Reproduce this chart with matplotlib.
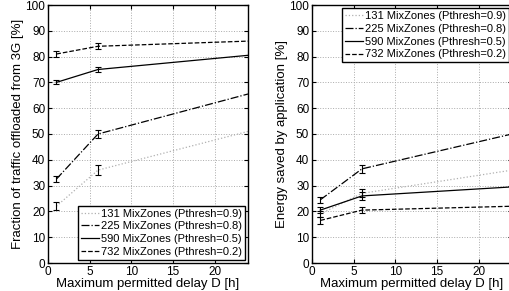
import numpy as np
import matplotlib.pyplot as plt

plt.rcParams['font.family'] = ['Liberation Sans', 'DejaVu Sans']

delay = [1, 6, 24]
labels = ['131 MixZones (Pthresh=0.9)', '225 MixZones (Pthresh=0.8)',
          '590 MixZones (Pthresh=0.5)', '732 MixZones (Pthresh=0.2)']

# left: fraction of traffic offloaded from 3G
off_131 = [22, 36, 51]
off_225 = [32.5, 50, 65.5]
off_590 = [70, 75, 80.5]
off_732 = [81, 84, 86]
off_err_131 = [1.5, 1.8, 0]
off_err_225 = [1.2, 1.5, 0]
off_err_590 = [0.8, 1.0, 0]
off_err_732 = [1.0, 1.2, 0]

# right: energy saved by application
en_131 = [19, 27, 36]
en_225 = [24.5, 36.5, 50]
en_590 = [20.5, 26, 29.5]
en_732 = [16.5, 20.5, 22]
en_err_131 = [1.2, 1.5, 0]
en_err_225 = [1.2, 1.6, 0]
en_err_590 = [1.3, 1.6, 0]
en_err_732 = [1.2, 1.3, 0]

styles = [dict(color='#b0b0b0', ls=':'), dict(color='k', ls='-.'),
          dict(color='k', ls='-'), dict(color='k', ls='--')]

fig = plt.figure(figsize=(5.09, 2.91), dpi=100)
ax1 = fig.add_axes([48/509, 1-263/291, 200/509, 258/291])
ax2 = fig.add_axes([312/509, 1-263/291, 200/509, 258/291])


def draw(ax, ys, errs):
    for y, e, st, lab in zip(ys, errs, styles, labels):
        ax.plot(delay, y, lw=0.9, label=lab, **st)
        ax.errorbar(delay[:2], y[:2], yerr=e[:2], fmt='none', ecolor='k',
                    elinewidth=0.8, capsize=2, capthick=0.8)
    ax.set_xlim(0, 24)
    ax.set_ylim(0, 100)
    ax.set_xticks([0, 5, 10, 15, 20])
    ax.set_yticks(range(0, 101, 10))
    ax.grid(True, ls=':', color='#aaaaaa', lw=0.7)
    ax.tick_params(direction='in', labelsize=8.5, top=True, right=True,
                   length=3, pad=2)
    for s in ax.spines.values():
        s.set_linewidth(1.0)
    ax.set_xlabel('Maximum permitted delay D [h]', fontsize=9.5, labelpad=0)


draw(ax1, [off_131, off_225, off_590, off_732],
     [off_err_131, off_err_225, off_err_590, off_err_732])
draw(ax2, [en_131, en_225, en_590, en_732],
     [en_err_131, en_err_225, en_err_590, en_err_732])

ax1.set_ylabel('Fraction of traffic offloaded from 3G [%]', fontsize=9.5, labelpad=1)
ax2.set_ylabel('Energy saved by application [%]', fontsize=9.5, labelpad=1)

for ax, loc in [(ax1, 'lower right'), (ax2, 'upper right')]:
    leg = ax.legend(loc=loc, fontsize=8, fancybox=False, framealpha=1,
                    edgecolor='k', handlelength=1.6, handletextpad=0.2,
                    borderpad=0.25, labelspacing=0.25, borderaxespad=0.3)
    leg.get_frame().set_linewidth(1.0)

fig.savefig('out.png', dpi=100)
